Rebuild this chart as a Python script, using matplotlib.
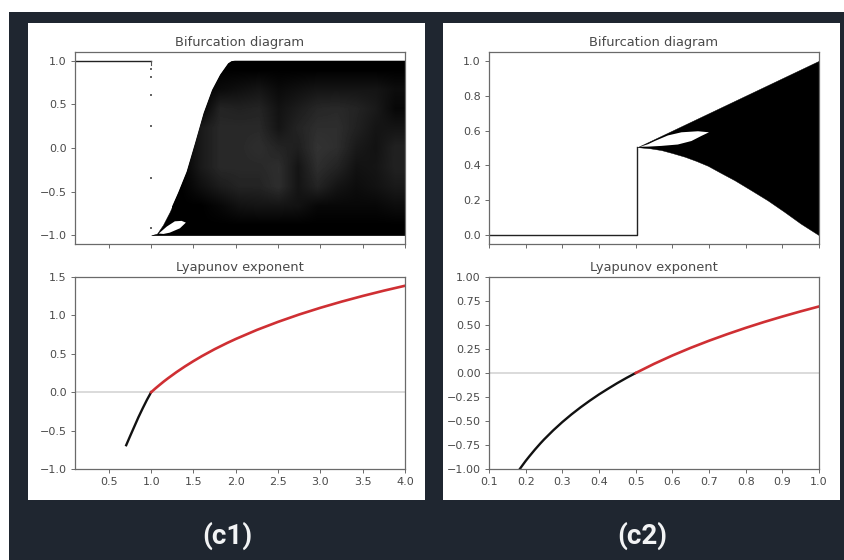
import numpy as np
import matplotlib
matplotlib.use("Agg")
import matplotlib.pyplot as plt
from matplotlib.patches import Rectangle

# ---------- data ----------
c1_upper_r = [1.0, 1.07, 1.14, 1.22, 1.32, 1.42, 1.52, 1.62, 1.72, 1.815, 1.91, 1.95, 1.99, 4.0]
c1_upper_y = [-1.0, -0.98, -0.88, -0.73, -0.51, -0.27, 0.06, 0.40, 0.665, 0.84, 0.97, 0.995, 1.0, 1.0]
c1_hole_r = [1.09, 1.185, 1.28, 1.36, 1.41, 1.34, 1.22, 1.145, 1.09]
c1_hole_y = [-0.98, -0.90, -0.84, -0.835, -0.855, -0.92, -0.97, -0.985, -0.98]
c1_fixed_r = [0.1, 1.0]
c1_fixed_y = [1.0, 1.0]
c1_iter_r = [1.0, 1.0, 1.0, 1.0, 1.0, 1.0]
c1_iter_y = [0.91, 0.81, 0.61, 0.25, -0.34, -0.92]
c1_grid_r = [1.25, 1.5, 1.75, 2.0, 2.25, 2.5, 2.75, 3.0, 3.25, 3.5, 3.75, 4.0]
c1_grid_y = [1.0, 0.75, 0.5, 0.25, 0.0, -0.25, -0.5, -0.75, -1.0]
c1_gray = [
    [0.00, 0.00, 0.00, 0.00, 0.00, 0.00, 0.00, 0.00, 0.00, 0.00, 0.00, 0.00],
    [0.00, 0.00, 0.04, 0.06, 0.08, 0.04, 0.06, 0.08, 0.08, 0.08, 0.08, 0.05],
    [0.00, 0.00, 0.14, 0.13, 0.14, 0.07, 0.11, 0.15, 0.16, 0.14, 0.10, 0.03],
    [0.00, 0.10, 0.16, 0.16, 0.16, 0.08, 0.14, 0.18, 0.18, 0.13, 0.08, 0.08],
    [0.00, 0.10, 0.16, 0.16, 0.18, 0.14, 0.12, 0.20, 0.18, 0.10, 0.07, 0.13],
    [0.00, 0.10, 0.16, 0.16, 0.16, 0.18, 0.08, 0.18, 0.14, 0.07, 0.08, 0.13],
    [0.00, 0.06, 0.11, 0.14, 0.14, 0.18, 0.08, 0.14, 0.08, 0.05, 0.07, 0.10],
    [0.00, 0.00, 0.03, 0.07, 0.08, 0.08, 0.07, 0.03, 0.03, 0.03, 0.03, 0.05],
    [0.00, 0.00, 0.00, 0.00, 0.00, 0.00, 0.00, 0.00, 0.00, 0.00, 0.00, 0.00],
]

c1_lyap_stable_r = [0.705, 0.75, 0.8, 0.85, 0.9, 0.95, 1.0]
c1_lyap_stable_y = [-0.69, -0.575, -0.45, -0.325, -0.21, -0.10, 0.0]
c1_lyap_chaos_r = [1.0, 1.05, 1.1, 1.15, 1.2, 1.3, 1.4, 1.5, 1.6, 1.75, 1.9, 2.0, 2.25, 2.5, 2.75, 3.0, 3.25, 3.5, 3.75, 4.0]
c1_lyap_chaos_y = [0.0, 0.049, 0.095, 0.14, 0.182, 0.262, 0.336, 0.405, 0.47, 0.56, 0.642, 0.693, 0.811, 0.916, 1.012, 1.099, 1.179, 1.253, 1.322, 1.386]

c2_fixed_r = [0.1, 0.505, 0.505]
c2_fixed_y = [0.0, 0.0, 0.505]
c2_band_r = [0.505, 0.54, 0.57, 0.60, 0.634, 0.665, 0.697, 0.73, 0.77, 0.815, 0.86, 0.905, 0.95, 1.0]
c2_band_low = [0.505, 0.498, 0.488, 0.471, 0.45, 0.426, 0.398, 0.36, 0.315, 0.258, 0.20, 0.135, 0.067, 0.0]
c2_band_high = [0.505, 0.54, 0.57, 0.60, 0.634, 0.665, 0.697, 0.73, 0.77, 0.815, 0.86, 0.905, 0.95, 1.0]
c2_hole_r = [0.512, 0.534, 0.552, 0.588, 0.625, 0.67, 0.70, 0.68, 0.652, 0.615, 0.57, 0.534, 0.512]
c2_hole_y = [0.507, 0.522, 0.54, 0.572, 0.59, 0.596, 0.59, 0.57, 0.54, 0.52, 0.512, 0.508, 0.507]
c2_lyap_stable_r = [0.184, 0.19, 0.2, 0.21, 0.225, 0.24, 0.25, 0.275, 0.3, 0.325, 0.35, 0.375, 0.4, 0.425, 0.45, 0.475, 0.5]
c2_lyap_stable_y = [-1.0, -0.968, -0.916, -0.868, -0.799, -0.734, -0.693, -0.598, -0.511, -0.431, -0.357, -0.288, -0.223, -0.163, -0.105, -0.051, 0.0]
c2_lyap_chaos_r = [0.5, 0.55, 0.6, 0.65, 0.7, 0.75, 0.8, 0.85, 0.9, 0.95, 1.0]
c2_lyap_chaos_y = [0.0, 0.095, 0.182, 0.262, 0.336, 0.405, 0.47, 0.531, 0.588, 0.642, 0.693]

panel_titles = ["Bifurcation diagram", "Lyapunov exponent"]
panel_tags = ["(c1)", "(c2)"]
c1_xticks = [0.5, 1.0, 1.5, 2.0, 2.5, 3.0, 3.5, 4.0]
c1_top_yticks = [-1.0, -0.5, 0.0, 0.5, 1.0]
c1_bot_yticks = [-1.0, -0.5, 0.0, 0.5, 1.0, 1.5]
c2_xticks = [0.1, 0.2, 0.3, 0.4, 0.5, 0.6, 0.7, 0.8, 0.9, 1.0]
c2_top_yticks = [0.0, 0.2, 0.4, 0.6, 0.8, 1.0]
c2_bot_yticks = [-1.0, -0.75, -0.5, -0.25, 0.0, 0.25, 0.5, 0.75, 1.0]

# ---------- figure ----------
W, H = 845, 560
BG = "#1f2630"
TXT = "#4a4a4a"
SP = "#6a6a6a"
RED = "#cf2f33"
fig = plt.figure(figsize=(W / 100, H / 100), dpi=100, facecolor="white")


def rect(x0, y0, x1, y1):
    return [x0 / W, 1 - y1 / H, (x1 - x0) / W, (y1 - y0) / H]


def backdrop(x0, y0, x1, y1, color, z):
    r = rect(x0, y0, x1, y1)
    fig.add_artist(Rectangle(r[:2], r[2], r[3], transform=fig.transFigure,
                             facecolor=color, edgecolor="none", zorder=z))


backdrop(9, 12, W, H, BG, -3)
for x0, x1 in [(28, 425), (443, 840)]:
    backdrop(x0, 22.5, x1, 500, "white", -2)


def make_axes(x0, y0, x1, y1, title, xlim, ylim, xticks, yticks, fmt, xlabels=True):
    ax = fig.add_axes(rect(x0, y0, x1, y1), facecolor="white", zorder=1)
    ax.set_xlim(*xlim)
    ax.set_ylim(*ylim)
    ax.set_xticks(xticks)
    ax.set_yticks(yticks)
    ax.set_yticklabels([(fmt % t).replace("-", "\u2212") for t in yticks])
    if xlabels:
        ax.set_xticklabels(["%.1f" % t for t in xticks])
    else:
        ax.set_xticklabels([])
    ax.tick_params(labelsize=8.0, colors=TXT, color=SP, length=3, width=0.7, pad=3)
    for s in ax.spines.values():
        s.set_color(SP)
        s.set_linewidth(0.9)
    ax.set_title(title, fontsize=9.4, color=TXT, pad=4.5)
    return ax


# c1 bifurcation
ax = make_axes(75, 52, 405, 244, panel_titles[0], (0.1, 4.0), (-1.1, 1.1),
               c1_xticks, c1_top_yticks, "%.1f", xlabels=False)
ax.plot(c1_fixed_r, c1_fixed_y, color="#222222", lw=1.0)
ax.scatter(c1_iter_r, c1_iter_y, s=2.5, color="#666666", marker="s", linewidths=0)
ax.plot([1.0, 1.0], [1.0, 0.95], color="#555555", lw=0.8)
band = ax.fill_between(c1_upper_r, -1.0, c1_upper_y, color="black", lw=0.3)
im = ax.imshow(np.array(c1_gray), cmap="gray", vmin=0, vmax=1, aspect="auto",
               interpolation="bilinear", zorder=2,
               extent=(c1_grid_r[0], c1_grid_r[-1], c1_grid_y[-1], c1_grid_y[0]))
im.set_clip_path(band.get_paths()[0], transform=ax.transData)
ax.set_xlim(0.1, 4.0)
ax.set_ylim(-1.1, 1.1)
ax.fill(c1_hole_r, c1_hole_y, color="white", lw=0, zorder=3)

# c1 lyapunov
ax = make_axes(75, 277, 405, 469, panel_titles[1], (0.1, 4.0), (-1.0, 1.5),
               c1_xticks, c1_bot_yticks, "%.1f")
ax.axhline(0, color="#d4d4d4", lw=1.2)
ax.plot(c1_lyap_stable_r, c1_lyap_stable_y, color="#111111", lw=1.7)
ax.plot(c1_lyap_chaos_r, c1_lyap_chaos_y, color=RED, lw=1.9)

# c2 bifurcation
ax = make_axes(489, 52, 819, 244, panel_titles[0], (0.1, 1.0), (-0.05, 1.05),
               c2_xticks, c2_top_yticks, "%.1f", xlabels=False)
ax.plot(c2_fixed_r, c2_fixed_y, color="#222222", lw=1.0)
ax.fill_between(c2_band_r, c2_band_low, c2_band_high, color="black", lw=0.3)
ax.fill(c2_hole_r, c2_hole_y, color="white", lw=0, zorder=3)

# c2 lyapunov
ax = make_axes(489, 277, 819, 469, panel_titles[1], (0.1, 1.0), (-1.0, 1.0),
               c2_xticks, c2_bot_yticks, "%.2f")
ax.axhline(0, color="#d4d4d4", lw=1.2)
ax.plot(c2_lyap_stable_r, c2_lyap_stable_y, color="#111111", lw=1.7)
ax.plot(c2_lyap_chaos_r, c2_lyap_chaos_y, color=RED, lw=1.9)

# panel tags
for tag, cx in zip(panel_tags, [227, 642]):
    fig.text(cx / W, 1 - 536 / H, tag, color="#f2f3f4", fontsize=20, fontweight="bold",
             family="Roboto", ha="center", va="center")

fig.savefig("out.png", dpi=100, facecolor="white")
